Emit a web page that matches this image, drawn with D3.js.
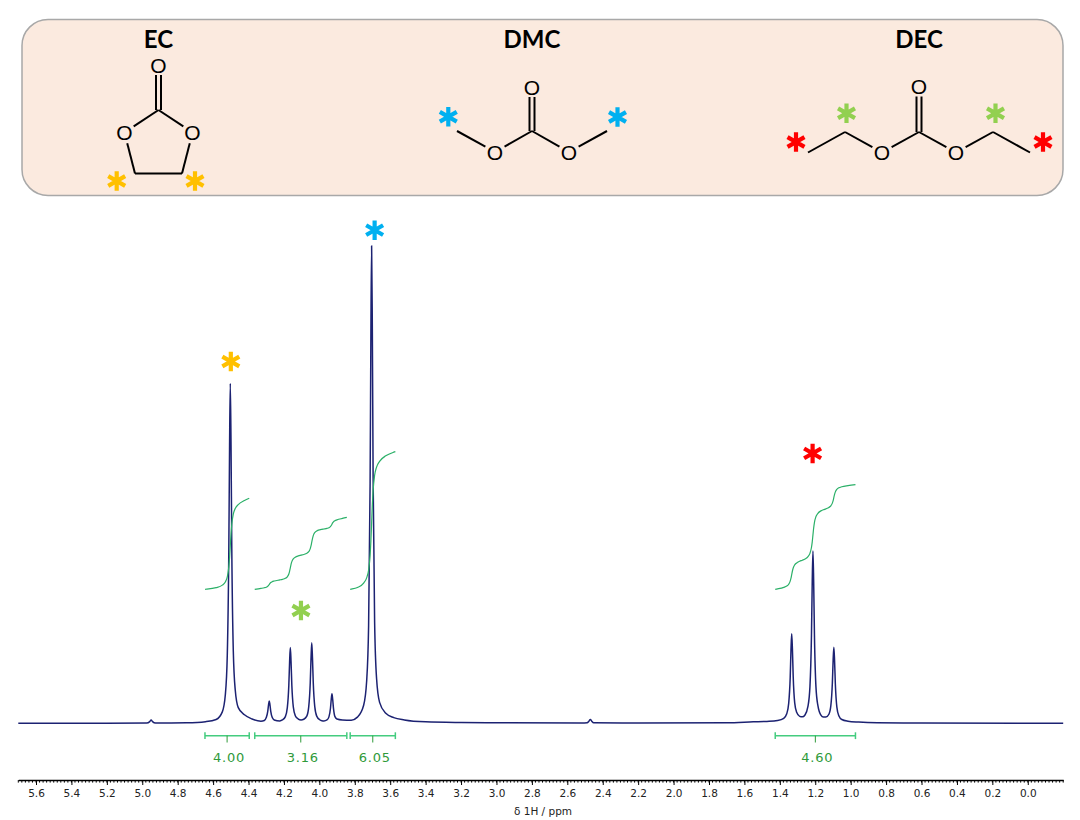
<!DOCTYPE html>
<html>
<head>
<meta charset="utf-8">
<script src="https://cdn.jsdelivr.net/npm/d3@7"></script>
<style>
  body { margin: 0; background: #fff; }
  svg { display: block; }
</style>
</head>
<body>
<svg id="chart" width="1080" height="820"></svg>
<script>
// 1H spectrum, [ppm, intensity] (DMC singlet = 100)
var spectrum = [
  [5.70, 0.00], [5.20, 0.00], [4.975, 0.05], [4.958, 0.35], [4.950, 0.70], [4.942, 0.35], [4.925, 0.05],
  [4.75, 0.12], [4.643, 0.35], [4.583, 0.8], [4.548, 2.4], [4.531, 6.0], [4.520, 14.3], [4.5115, 35.7],
  [4.507, 58.5], [4.503, 71.4], [4.499, 59.3], [4.4945, 36.6], [4.486, 15.2], [4.475, 7.0], [4.458, 3.3],
  [4.423, 1.8], [4.380, 0.9], [4.330, 0.45], [4.311, 0.6], [4.300, 1.2], [4.2915, 2.5], [4.287, 3.9],
  [4.283, 4.7], [4.279, 3.9], [4.2745, 2.5], [4.266, 1.2], [4.255, 0.7], [4.2235, 0.5], [4.209, 0.7],
  [4.192, 1.4], [4.181, 3.3], [4.1725, 8.0], [4.168, 13.0], [4.164, 15.9], [4.160, 13.0], [4.1555, 8.0],
  [4.147, 3.4], [4.136, 1.6], [4.119, 0.9], [4.1035, 0.7], [4.088, 0.85], [4.071, 1.5], [4.060, 3.5],
  [4.0515, 8.5], [4.047, 13.8], [4.043, 16.9], [4.039, 13.8], [4.0345, 8.5], [4.026, 3.5], [4.015, 1.5],
  [3.998, 0.75], [3.986, 0.55], [3.974, 0.5], [3.957, 0.7], [3.946, 1.35], [3.9375, 3.1], [3.933, 5.0],
  [3.929, 6.2], [3.925, 5.1], [3.9205, 3.2], [3.912, 1.4], [3.901, 0.9], [3.870, 0.7], [3.820, 0.65],
  [3.785, 1.3], [3.750, 3.8], [3.733, 8.9], [3.722, 20.5], [3.7135, 50.5], [3.709, 82.3], [3.705, 100.3],
  [3.701, 83.0], [3.6965, 51.5], [3.688, 21.2], [3.677, 9.4], [3.660, 4.4], [3.625, 2.1], [3.580, 1.2],
  [3.520, 0.7], [3.400, 0.3], [3.200, 0.15], [3.000, 0.1], [2.520, 0.05], [2.488, 0.1], [2.478, 0.45],
  [2.470, 0.8], [2.462, 0.45], [2.452, 0.1], [2.200, 0.05], [1.700, 0.1], [1.550, 0.3], [1.473, 0.4],
  [1.413, 0.6], [1.378, 1.05], [1.361, 2.0], [1.350, 4.2], [1.3415, 9.6], [1.337, 15.5], [1.333, 18.8],
  [1.329, 15.6], [1.3245, 9.8], [1.316, 4.3], [1.305, 2.3], [1.288, 1.45], [1.273, 1.35], [1.258, 1.75],
  [1.241, 3.6], [1.230, 7.7], [1.2215, 18.4], [1.217, 29.8], [1.213, 36.2], [1.209, 29.8], [1.2045, 18.4],
  [1.196, 7.6], [1.185, 3.7], [1.168, 1.7], [1.154, 1.3], [1.140, 1.3], [1.123, 1.9], [1.112, 3.7],
  [1.1035, 8.4], [1.099, 13.3], [1.095, 16.0], [1.091, 13.2], [1.0865, 8.2], [1.078, 3.4], [1.067, 1.6],
  [1.050, 0.8], [1.015, 0.45], [0.955, 0.25], [0.850, 0.1], [0.600, 0.05], [-0.20, 0.0]
];

// integration regions
var integralFrom = [4.646, 4.365, 3.826, 1.426];
var integralTo = [4.396, 3.845, 3.571, 0.973];
var integralValues = [4.00, 3.16, 6.05, 4.60];

// axis
var majorTicks = [5.6, 5.4, 5.2, 5.0, 4.8, 4.6, 4.4, 4.2, 4.0, 3.8, 3.6, 3.4, 3.2, 3.0, 2.8, 2.6, 2.4, 2.2, 2.0, 1.8, 1.6, 1.4, 1.2, 1.0, 0.8, 0.6, 0.4, 0.2, 0.0];
var axisTitle = "δ 1H / ppm";

// coloured asterisks over the signals
var markerPpm = [4.500, 4.104, 3.688, 1.215];
var markerLevel = [76.0, 23.7, 103.6, 56.7];
var markerColor = ["#ffc000", "#92d050", "#00b0f0", "#ff0000"];

var svg = d3.select("#chart");
var W = 1080, H = 820;
svg.append("rect").attr("width", W).attr("height", H).attr("fill", "#fff");

var x = d3.scaleLinear().domain([5.70, -0.20]).range([18.3, 1063.2]);
var y = d3.scaleLinear().domain([0, 100]).range([723.3, 247.3]);
var yInt = d3.scaleLinear().domain([0, 4]).range([589.3, 498.3]);

// ---- structures box ----
var box = svg.append("g");
box.append("rect")
  .attr("x", 22).attr("y", 19.5)
  .attr("width", 1041).attr("height", 176)
  .attr("rx", 26).attr("ry", 26)
  .attr("fill", "#fbeadf")
  .attr("stroke", "#a8a8a8")
  .attr("stroke-width", 1.5);

var molecules = [
  {
    name: "EC", cx: 158.5,
    atoms: [[158.5, 110, ""], [158.5, 65, "O"], [124.5, 132.5, "O"], [192.5, 132.5, "O"], [135, 173.5, ""], [182, 173.5, ""]],
    bonds: [[0, 1, 2], [0, 2, 1], [0, 3, 1], [2, 4, 1], [4, 5, 1], [5, 3, 1]],
    stars: [[116.7, 181, "#ffc000"], [195, 181, "#ffc000"]]
  },
  {
    name: "DMC", cx: 532,
    atoms: [[532, 131, ""], [532, 87, "O"], [495, 152, "O"], [569, 152, "O"], [457, 131, ""], [607, 131, ""]],
    bonds: [[0, 1, 2], [0, 2, 1], [0, 3, 1], [2, 4, 1], [3, 5, 1]],
    stars: [[448.3, 116.7, "#00b0f0"], [617.5, 117, "#00b0f0"]]
  },
  {
    name: "DEC", cx: 919,
    atoms: [[919, 132, ""], [919, 86.5, "O"], [882, 152.5, "O"], [956, 152.5, "O"], [845, 132, ""], [808, 152.5, ""], [993, 132, ""], [1030, 152.5, ""]],
    bonds: [[0, 1, 2], [0, 2, 1], [0, 3, 1], [2, 4, 1], [4, 5, 1], [3, 6, 1], [6, 7, 1]],
    stars: [[846.5, 113.3, "#92d050"], [995.5, 113.3, "#92d050"], [796, 142, "#ff0000"], [1043, 142, "#ff0000"]]
  }
];

var star = d3.symbol().type(d3.symbolAsterisk).size(270);

function drawStar(g, cx, cy, color) {
  g.append("path")
    .attr("d", star)
    .attr("transform", "translate(" + cx + "," + cy + ")")
    .attr("fill", "none")
    .attr("stroke", color)
    .attr("stroke-width", 4.2);
}

molecules.forEach(function(m) {
  var g = box.append("g");
  g.append("text")
    .attr("x", m.cx).attr("y", 48)
    .attr("text-anchor", "middle")
    .style("font-family", "Lato, 'Open Sans', sans-serif")
    .style("font-weight", "bold")
    .style("font-size", "24px")
    .attr("fill", "#000")
    .text(m.name);

  m.bonds.forEach(function(b) {
    var a = m.atoms[b[0]], c = m.atoms[b[1]];
    var dx = c[0] - a[0], dy = c[1] - a[1];
    var len = Math.sqrt(dx * dx + dy * dy);
    var ux = dx / len, uy = dy / len;
    var sa = a[2] ? 11 : 0, sc = c[2] ? (b[2] === 2 ? 10 : 11) : 0;
    var x1 = a[0] + ux * sa, y1 = a[1] + uy * sa;
    var x2 = c[0] - ux * sc, y2 = c[1] - uy * sc;
    var offs = b[2] === 2 ? [-2.5, 2.5] : [0];
    offs.forEach(function(o) {
      g.append("line")
        .attr("x1", x1 - uy * o).attr("y1", y1 + ux * o)
        .attr("x2", x2 - uy * o).attr("y2", y2 + ux * o)
        .attr("stroke", "#000")
        .attr("stroke-width", 2);
    });
  });

  m.atoms.filter(function(a) { return a[2]; }).forEach(function(a) {
    g.append("text")
      .attr("x", a[0]).attr("y", a[1])
      .attr("dy", "0.36em")
      .attr("text-anchor", "middle")
      .style("font-family", "'Liberation Sans', Arial, sans-serif")
      .style("font-size", "21px")
      .attr("fill", "#000")
      .text(a[2]);
  });

  m.stars.forEach(function(s) { drawStar(g, s[0], s[1], s[2]); });
});

// ---- spectrum ----
var line = d3.line()
  .x(function(d) { return x(d[0]); })
  .y(function(d) { return y(d[1]); })
  .curve(d3.curveMonotoneX);

svg.append("path")
  .datum(spectrum)
  .attr("d", line)
  .attr("fill", "none")
  .attr("stroke", "#1c2272")
  .attr("stroke-width", 1.5)
  .attr("stroke-linejoin", "round");

// integral curves, cumulative area of the spectrum over each region
function integralCurve(from, to, value) {
  var pts = spectrum.filter(function(d) { return d[0] <= from && d[0] >= to; });
  var out = [[from, 0]];
  var acc = 0, prev = [from, pts[0][1]];
  pts.forEach(function(d) {
    acc += (prev[0] - d[0]) * (prev[1] + d[1]) / 2;
    out.push([d[0], acc]);
    prev = d;
  });
  acc += (prev[0] - to) * prev[1];
  out.push([to, acc]);
  return out.map(function(d) { return [d[0], d[1] / acc * value]; });
}

var intLine = d3.line()
  .x(function(d) { return x(d[0]); })
  .y(function(d) { return yInt(d[1]); })
  .curve(d3.curveMonotoneX);

var integ = svg.append("g");
for (var i = 0; i < integralValues.length; i++) {
  integ.append("path")
    .datum(integralCurve(integralFrom[i], integralTo[i], integralValues[i]))
    .attr("d", intLine)
    .attr("fill", "none")
    .attr("stroke", "#2bb068")
    .attr("stroke-width", 1.2);

  var x1 = x(integralFrom[i]), x2 = x(integralTo[i]), xm = (x1 + x2) / 2;
  var bar = integ.append("g").attr("stroke", "#44cc7f").attr("stroke-width", 1.5);
  bar.append("line").attr("x1", x1).attr("x2", x2).attr("y1", 735.7).attr("y2", 735.7);
  bar.append("line").attr("x1", x1).attr("x2", x1).attr("y1", 732.3).attr("y2", 739.1);
  bar.append("line").attr("x1", x2).attr("x2", x2).attr("y1", 732.3).attr("y2", 739.1);
  bar.append("line").attr("x1", xm).attr("x2", xm).attr("y1", 735.7).attr("y2", 742.5)
    .attr("stroke", "#2f9a3a").attr("stroke-width", 1);

  integ.append("text")
    .attr("x", xm + 2).attr("y", 761.5)
    .attr("text-anchor", "middle")
    .style("font-family", "'DejaVu Sans', Verdana, sans-serif")
    .style("font-size", "13px")
    .style("letter-spacing", "0.8px")
    .attr("fill", "#2f9a3a")
    .text(d3.format(".2f")(integralValues[i]));
}

// markers
for (var j = 0; j < markerPpm.length; j++) {
  drawStar(svg, x(markerPpm[j]), y(markerLevel[j]), markerColor[j]);
}

// ---- axis ----
var axisY = 780;
var axis = svg.append("g")
  .attr("transform", "translate(0," + axisY + ")")
  .call(d3.axisBottom(x)
    .tickValues(majorTicks)
    .tickFormat(d3.format(".1f"))
    .tickSize(5)
    .tickSizeOuter(0)
    .tickPadding(5));
axis.select(".domain").attr("stroke", "#000").attr("stroke-width", 1.3);
axis.selectAll(".tick line").attr("stroke", "#000").attr("stroke-width", 1);
axis.selectAll(".tick text")
  .attr("fill", "#222")
  .style("font-family", "'DejaVu Sans', Verdana, sans-serif")
  .style("font-size", "10.5px");

var minor = d3.range(-0.20, 5.701, 0.02);
axis.selectAll(".minor")
  .data(minor)
  .enter().append("line")
  .attr("class", "minor")
  .attr("x1", function(d) { return x(d); })
  .attr("x2", function(d) { return x(d); })
  .attr("y1", 0).attr("y2", 2.6)
  .attr("stroke", "#000")
  .attr("stroke-width", 1);

svg.append("text")
  .attr("x", 543).attr("y", 815)
  .attr("text-anchor", "middle")
  .style("font-family", "'DejaVu Sans', Verdana, sans-serif")
  .style("font-size", "10.5px")
  .attr("fill", "#222")
  .text(axisTitle);
</script>
</body>
</html>
